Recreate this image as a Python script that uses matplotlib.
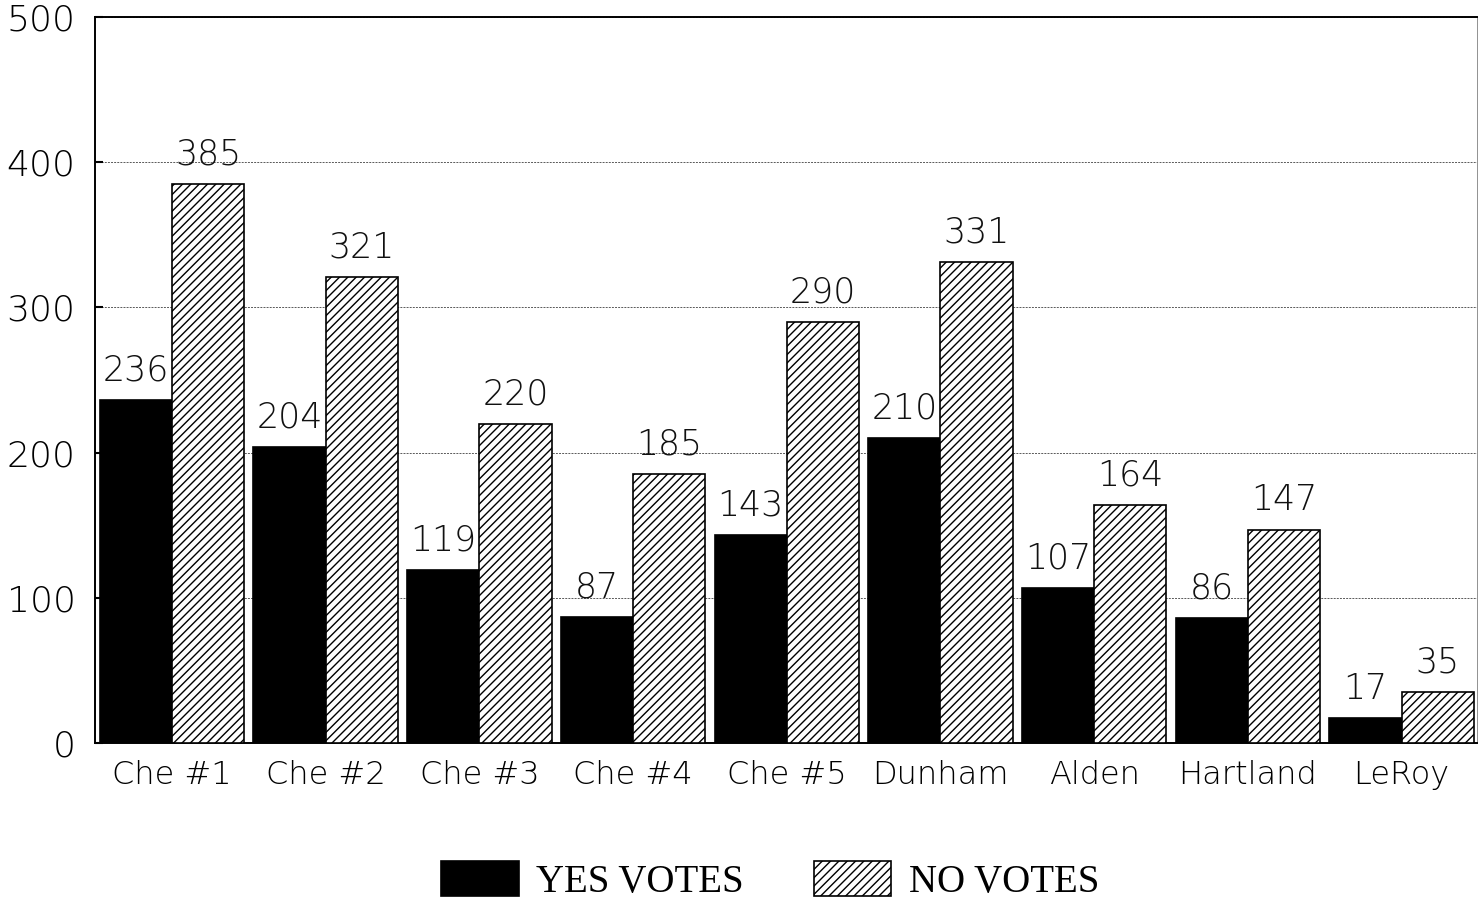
import matplotlib.pyplot as plt
import numpy as np

# precinct names and vote counts
precincts = ["Che #1", "Che #2", "Che #3", "Che #4", "Che #5",
             "Dunham", "Alden", "Hartland", "LeRoy"]
yes_votes = [236, 204, 119, 87, 143, 210, 107, 86, 17]
no_votes = [385, 321, 220, 185, 290, 331, 164, 147, 35]
y_ticks = [0, 100, 200, 300, 400, 500]

plt.rcParams['hatch.linewidth'] = 1.0
plt.rcParams['font.family'] = ['DejaVu Sans']
plt.rcParams['font.weight'] = 'light'

fig = plt.figure(figsize=(14.78, 9.09), dpi=100)
ax = fig.add_axes([95 / 1478, 1 - 743 / 909, 1382 / 1478, (743 - 17) / 909])

x = np.arange(len(precincts))
w = 0.47

yes_bars = ax.bar(x - w / 2, yes_votes, width=w, color='black',
                  edgecolor='black', linewidth=1.2, label='YES VOTES', zorder=3)
no_bars = ax.bar(x + w / 2, no_votes, width=w, color='white',
                 edgecolor='black', linewidth=1.2, hatch='////',
                 label='NO VOTES', zorder=3)

ax.bar_label(yes_bars, padding=9, fontsize=25, color='#111111')
ax.bar_label(no_bars, padding=9, fontsize=25, color='#111111')

ax.set_xlim(-0.5, 8.49)
ax.set_ylim(0, 500)
ax.set_yticks(y_ticks)
ax.set_yticklabels([str(v) for v in y_ticks], fontsize=26)
ax.set_xticks(x)
ax.set_xticklabels(precincts, fontsize=23)

ax.tick_params(axis='y', direction='in', length=6, width=1.5, pad=14)
ax.tick_params(axis='x', length=0, pad=12)

ax.yaxis.grid(True, linestyle=(0, (2, 1.2)), color='0.35', linewidth=0.7, zorder=0)
ax.set_axisbelow(True)

for s in ['left', 'top', 'bottom']:
    ax.spines[s].set_linewidth(1.4)
ax.spines['right'].set_linewidth(0.6)
ax.spines['right'].set_color('0.5')

fig.legend(handles=[yes_bars, no_bars], labels=['YES VOTES', 'NO VOTES'],
           loc='center', bbox_to_anchor=(770 / 1478, 1 - 881 / 909), ncol=2,
           frameon=False, prop={'family': 'Liberation Serif', 'size': 28},
           handlelength=2.0, handleheight=1.0, handletextpad=0.45,
           columnspacing=1.8)

fig.savefig('out.png', dpi=100)
